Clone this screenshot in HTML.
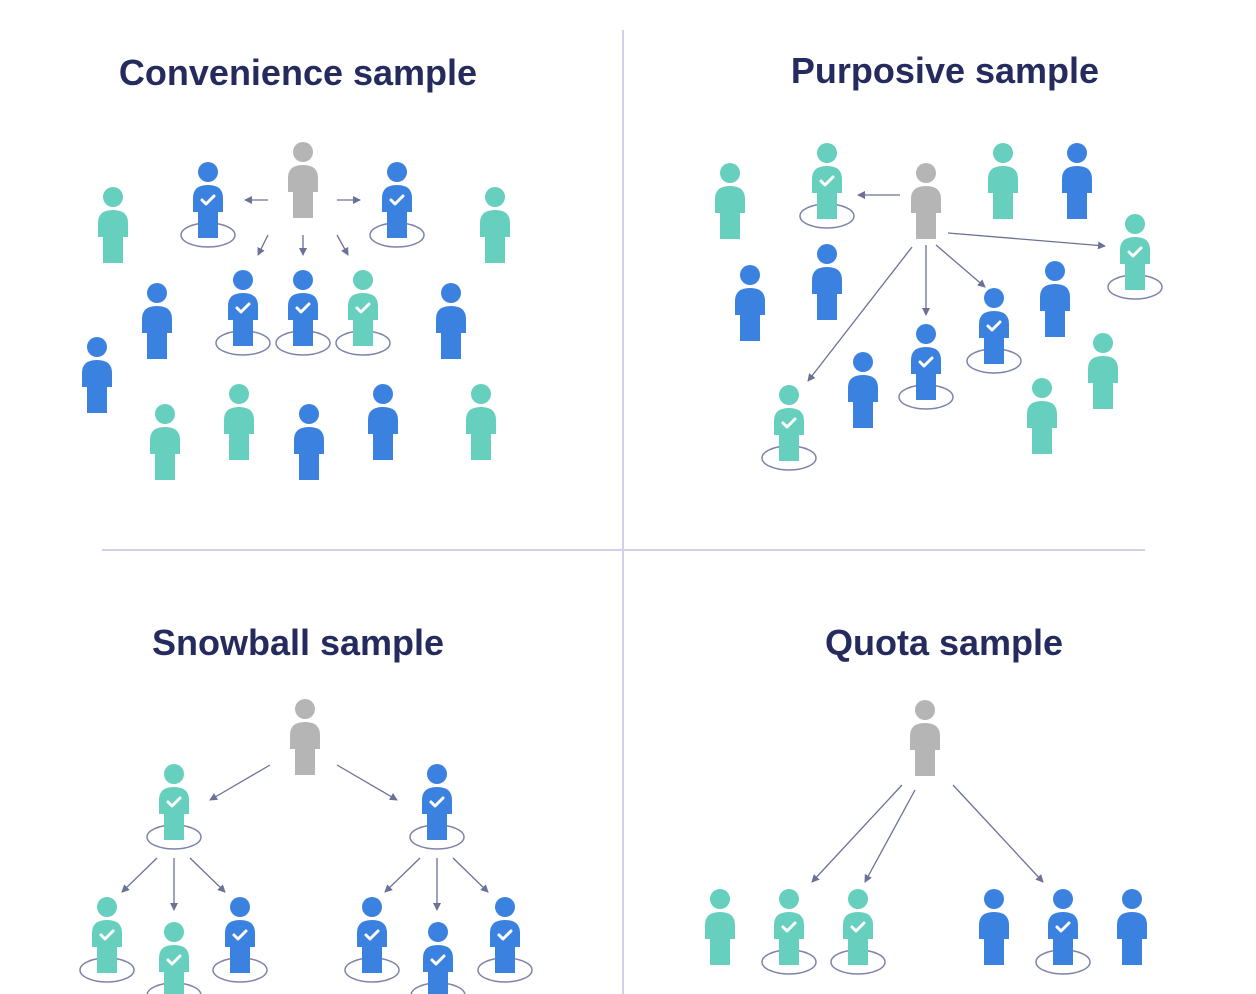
<!DOCTYPE html>
<html><head><meta charset="utf-8"><style>
html,body{margin:0;padding:0;background:#fff;}
svg{display:block}
text{font-family:"Liberation Sans",sans-serif;font-weight:bold;font-size:36px;fill:#252b5c;text-anchor:middle}
</style></head><body>
<svg width="1256" height="994" viewBox="0 0 1256 994" xmlns="http://www.w3.org/2000/svg">
<defs>
<marker id="ah" markerWidth="8" markerHeight="8" refX="7" refY="4" orient="auto" markerUnits="userSpaceOnUse">
<path d="M0,0 L8,4 L0,8 Z" fill="#6b7197"/></marker>
<g id="body"><circle cx="0" cy="10" r="10"/><path d="M-15,50 L-15,36 Q-15,23 0,23 Q15,23 15,36 L15,50 L10,50 L10,76 L-10,76 L-10,50 Z"/></g>
<g id="ring"><ellipse cx="0" cy="63" rx="27" ry="12" fill="none" stroke="#7e84a8" stroke-width="1.5"/></g>
<path id="chk" d="M-6,38 L-2,42 L6,34" fill="none" stroke="#fff" stroke-width="3" stroke-linecap="round" stroke-linejoin="round"/>
</defs>
<line x1="623" y1="30" x2="623" y2="994" stroke="#cfd2e6" stroke-width="2"/>
<line x1="102" y1="550" x2="1145" y2="550" stroke="#cfd2e6" stroke-width="2"/>
<text x="298" y="85">Convenience sample</text>
<text x="945" y="83">Purposive sample</text>
<text x="298" y="655">Snowball sample</text>
<text x="944" y="655">Quota sample</text>

<g stroke="#6b7197" stroke-width="1.3" marker-end="url(#ah)">
<line x1="268" y1="200" x2="245" y2="200"/><line x1="337" y1="200" x2="360" y2="200"/>
<line x1="268" y1="235" x2="258" y2="255"/><line x1="303" y1="235" x2="303" y2="255"/><line x1="337" y1="235" x2="348" y2="255"/>
<line x1="900" y1="195" x2="858" y2="195"/><line x1="948" y1="233" x2="1105" y2="246"/>
<line x1="926" y1="245" x2="926" y2="315"/><line x1="936" y1="245" x2="985" y2="287"/><line x1="912" y1="247" x2="808" y2="381"/>
<line x1="270" y1="765" x2="210" y2="800"/><line x1="337" y1="765" x2="397" y2="800"/>
<line x1="157" y1="858" x2="122" y2="892"/><line x1="174" y1="858" x2="174" y2="910"/><line x1="190" y1="858" x2="225" y2="892"/>
<line x1="420" y1="858" x2="385" y2="892"/><line x1="437" y1="858" x2="437" y2="910"/><line x1="453" y1="858" x2="488" y2="892"/>
<line x1="902" y1="785" x2="812" y2="882"/><line x1="915" y1="790" x2="865" y2="882"/><line x1="953" y1="785" x2="1043" y2="882"/>
</g>

<g fill="#b5b5b5">
<use href="#body" x="303" y="142"/><use href="#body" x="926" y="163"/><use href="#body" x="305" y="699"/><use href="#body" x="925" y="700"/>
</g>
<g>
<use href="#ring" x="208" y="172"/><use href="#ring" x="397" y="172"/>
<use href="#ring" x="243" y="280"/><use href="#ring" x="303" y="280"/><use href="#ring" x="363" y="280"/>
<use href="#ring" x="827" y="153"/><use href="#ring" x="1135" y="224"/><use href="#ring" x="994" y="298"/><use href="#ring" x="926" y="334"/><use href="#ring" x="789" y="395"/>
<use href="#ring" x="174" y="774"/><use href="#ring" x="437" y="774"/>
<use href="#ring" x="107" y="907"/><use href="#ring" x="174" y="932"/><use href="#ring" x="240" y="907"/>
<use href="#ring" x="372" y="907"/><use href="#ring" x="438" y="932"/><use href="#ring" x="505" y="907"/>
<use href="#ring" x="789" y="899"/><use href="#ring" x="858" y="899"/><use href="#ring" x="1063" y="899"/>
</g>
<g fill="#3b82e0">
<use href="#body" x="208" y="162"/><use href="#body" x="397" y="162"/><use href="#body" x="157" y="283"/><use href="#body" x="451" y="283"/>
<use href="#body" x="243" y="270"/><use href="#body" x="303" y="270"/><use href="#body" x="97" y="337"/><use href="#body" x="309" y="404"/><use href="#body" x="383" y="384"/>
<use href="#body" x="1077" y="143"/><use href="#body" x="750" y="265"/><use href="#body" x="827" y="244"/><use href="#body" x="1055" y="261"/>
<use href="#body" x="994" y="288"/><use href="#body" x="926" y="324"/><use href="#body" x="863" y="352"/>
<use href="#body" x="437" y="764"/><use href="#body" x="240" y="897"/><use href="#body" x="372" y="897"/><use href="#body" x="438" y="922"/><use href="#body" x="505" y="897"/>
<use href="#body" x="994" y="889"/><use href="#body" x="1063" y="889"/><use href="#body" x="1132" y="889"/>
</g>
<g fill="#66cfbd">
<use href="#body" x="113" y="187"/><use href="#body" x="495" y="187"/><use href="#body" x="363" y="270"/>
<use href="#body" x="165" y="404"/><use href="#body" x="239" y="384"/><use href="#body" x="481" y="384"/>
<use href="#body" x="730" y="163"/><use href="#body" x="827" y="143"/><use href="#body" x="1003" y="143"/><use href="#body" x="1135" y="214"/>
<use href="#body" x="1103" y="333"/><use href="#body" x="789" y="385"/><use href="#body" x="1042" y="378"/>
<use href="#body" x="174" y="764"/><use href="#body" x="107" y="897"/><use href="#body" x="174" y="922"/>
<use href="#body" x="720" y="889"/><use href="#body" x="789" y="889"/><use href="#body" x="858" y="889"/>
</g>
<g>
<use href="#chk" x="208" y="162"/><use href="#chk" x="397" y="162"/>
<use href="#chk" x="243" y="270"/><use href="#chk" x="303" y="270"/><use href="#chk" x="363" y="270"/>
<use href="#chk" x="827" y="143"/><use href="#chk" x="1135" y="214"/><use href="#chk" x="994" y="288"/><use href="#chk" x="926" y="324"/><use href="#chk" x="789" y="385"/>
<use href="#chk" x="174" y="764"/><use href="#chk" x="437" y="764"/>
<use href="#chk" x="107" y="897"/><use href="#chk" x="174" y="922"/><use href="#chk" x="240" y="897"/>
<use href="#chk" x="372" y="897"/><use href="#chk" x="438" y="922"/><use href="#chk" x="505" y="897"/>
<use href="#chk" x="789" y="889"/><use href="#chk" x="858" y="889"/><use href="#chk" x="1063" y="889"/>
</g>
</svg>
</body></html>
